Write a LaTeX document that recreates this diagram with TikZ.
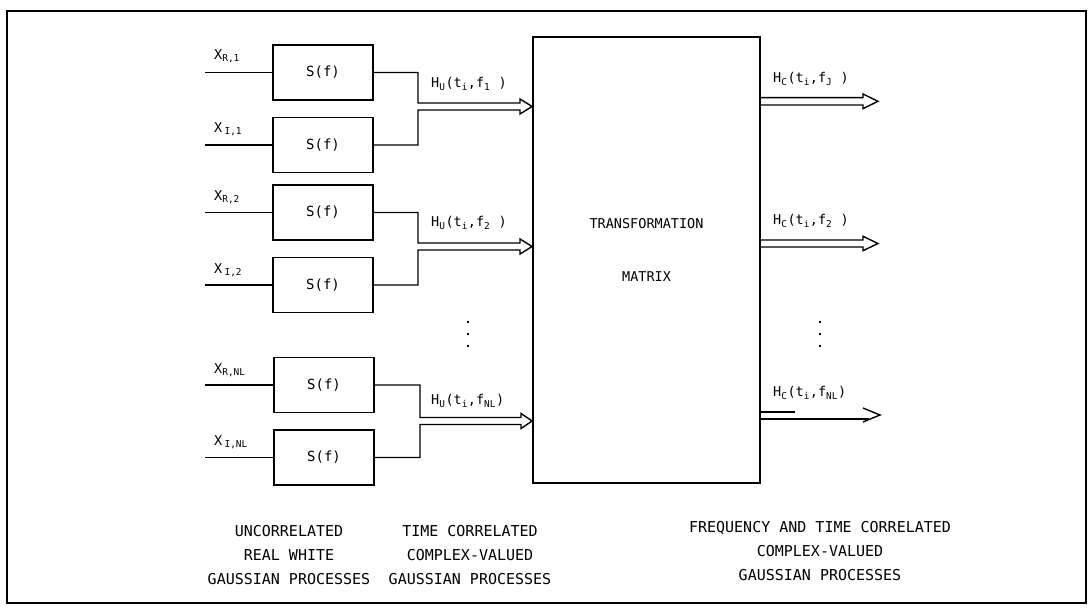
\documentclass[tikz,border=0pt]{standalone}
\usepackage{fontspec}
\setmainfont{DejaVu Sans Mono}
\begin{document}
\begin{tikzpicture}[x=1pt,y=-1pt,
  txt/.style={font=\fontsize{13.5}{15}\selectfont, inner sep=1pt},
  filt/.style={draw, line width=1.5pt, minimum width=100pt, minimum height=55pt, inner sep=0pt, font=\fontsize{14}{15}\selectfont},
  wire/.style={line width=1.5pt},
  dbl/.style={line width=1.4pt, line join=miter},
  btm/.style={font=\fontsize{15}{24}\selectfont, align=center, inner sep=0pt}]
\useasboundingbox (0,0) rectangle (1089,612);
\draw[line width=2.4pt] (7,11) rectangle (1086,603);

% filter boxes
\node[filt] (s1) at (323,72.5) {S(f)};
\node[filt] (s2) at (323,145) {S(f)};
\node[filt] (s3) at (323,212.5) {S(f)};
\node[filt] (s4) at (323,285) {S(f)};
\node[filt] (s5) at (324,385) {S(f)};
\node[filt] (s6) at (324,457.5) {S(f)};

% main matrix box
\node[draw, line width=1.8pt, minimum width=227pt, minimum height=446pt, inner sep=0pt] (M) at (646.5,260) {};
\node[txt] (tr) at (646.5,224) {TRANSFORMATION};
\node[txt] (mx) at (646.5,277) {MATRIX};

% input lines
\foreach \n/\y in {1/72.5,2/145,3/212.5,4/285,5/385,6/457.5}{
  \coordinate (in\n) at (205,\y);
  \draw[wire] (in\n) -- (s\n.west);
}
% input labels
\node[txt, anchor=west] (x1) at (213,56) {X\textsubscript{R,1}};
\node[txt, anchor=west] (x2) at (213,129) {X\,\textsubscript{I,1}};
\node[txt, anchor=west] (x3) at (213,197) {X\textsubscript{R,2}};
\node[txt, anchor=west] (x4) at (213,270) {X\,\textsubscript{I,2}};
\node[txt, anchor=west] (x5) at (213,370) {X\textsubscript{R,NL}};
\node[txt, anchor=west] (x6) at (213,442) {X\,\textsubscript{I,NL}};

% tips on the matrix box
\coordinate (ty1) at (0,106.5);
\coordinate (ty2) at (0,246.5);
\coordinate (ty3) at (0,421);
\coordinate (t1) at (M.west |- ty1);
\coordinate (t2) at (M.west |- ty2);
\coordinate (t3) at (M.west |- ty3);

% combined double arrows into matrix
\draw[dbl] (s1.east) -- (418,72.5) -- (418,103) -- (520,103) -- (520,99) -- (t1)
  -- (520,114) -- (520,110) -- (418,110) -- (418,145) -- (s2.east);
\draw[dbl] (s3.east) -- (418,212.5) -- (418,243) -- (520,243) -- (520,239) -- (t2)
  -- (520,254) -- (520,250) -- (418,250) -- (418,285) -- (s4.east);
\draw[dbl] (s5.east) -- (420,385) -- (420,417.5) -- (521,417.5) -- (521,413.5) -- (t3)
  -- (521,428.5) -- (521,424.5) -- (420,424.5) -- (420,457.5) -- (s6.east);

% labels H_U
\node[txt, anchor=west] (hu1) at (430,84) {H\textsubscript{U}(t\textsubscript{i},f\textsubscript{1} )};
\node[txt, anchor=west] (hu2) at (430,223) {H\textsubscript{U}(t\textsubscript{i},f\textsubscript{2} )};
\node[txt, anchor=west] (hu3) at (430,401) {H\textsubscript{U}(t\textsubscript{i},f\textsubscript{NL})};

% output arrows
\coordinate (oa1) at (M.east |- 0,97.7);
\coordinate (ob1) at (M.east |- 0,105);
\draw[dbl] (oa1) -- (863,97.7) -- (863,94) -- (878,101.3) -- (863,108.6) -- (863,105) -- (ob1);
\coordinate (oa2) at (M.east |- 0,240);
\coordinate (ob2) at (M.east |- 0,247);
\draw[dbl] (oa2) -- (863,240) -- (863,236.3) -- (878,243.5) -- (863,250.7) -- (863,247) -- (ob2);
\coordinate (oa3) at (M.east |- 0,412);
\coordinate (ob3) at (M.east |- 0,419);
\draw[dbl] (oa3) -- (795,412);
\draw[dbl] (863,408) -- (880,415) -- (863,422);
\draw[dbl] (ob3) -- (869,419);

% labels H_C
\node[txt, anchor=west] (hc1) at (772,79) {H\textsubscript{C}(t\textsubscript{i},f\textsubscript{J} )};
\node[txt, anchor=west] (hc2) at (772,221) {H\textsubscript{C}(t\textsubscript{i},f\textsubscript{2} )};
\node[txt, anchor=west] (hc3) at (772,393) {H\textsubscript{C}(t\textsubscript{i},f\textsubscript{NL})};

% vertical dots
\foreach \y in {322,334,346}{
  \fill (468,\y) circle (1.3pt);
  \fill (820,\y) circle (1.3pt);
}

% bottom captions
\node[btm] (c1) at (289,555) {UNCORRELATED\\REAL WHITE\\GAUSSIAN PROCESSES};
\node[btm] (c2) at (470,555) {TIME CORRELATED\\COMPLEX-VALUED\\GAUSSIAN PROCESSES};
\node[btm] (c3) at (820,551) {FREQUENCY AND TIME CORRELATED\\COMPLEX-VALUED\\GAUSSIAN PROCESSES};
\end{tikzpicture}
\end{document}
